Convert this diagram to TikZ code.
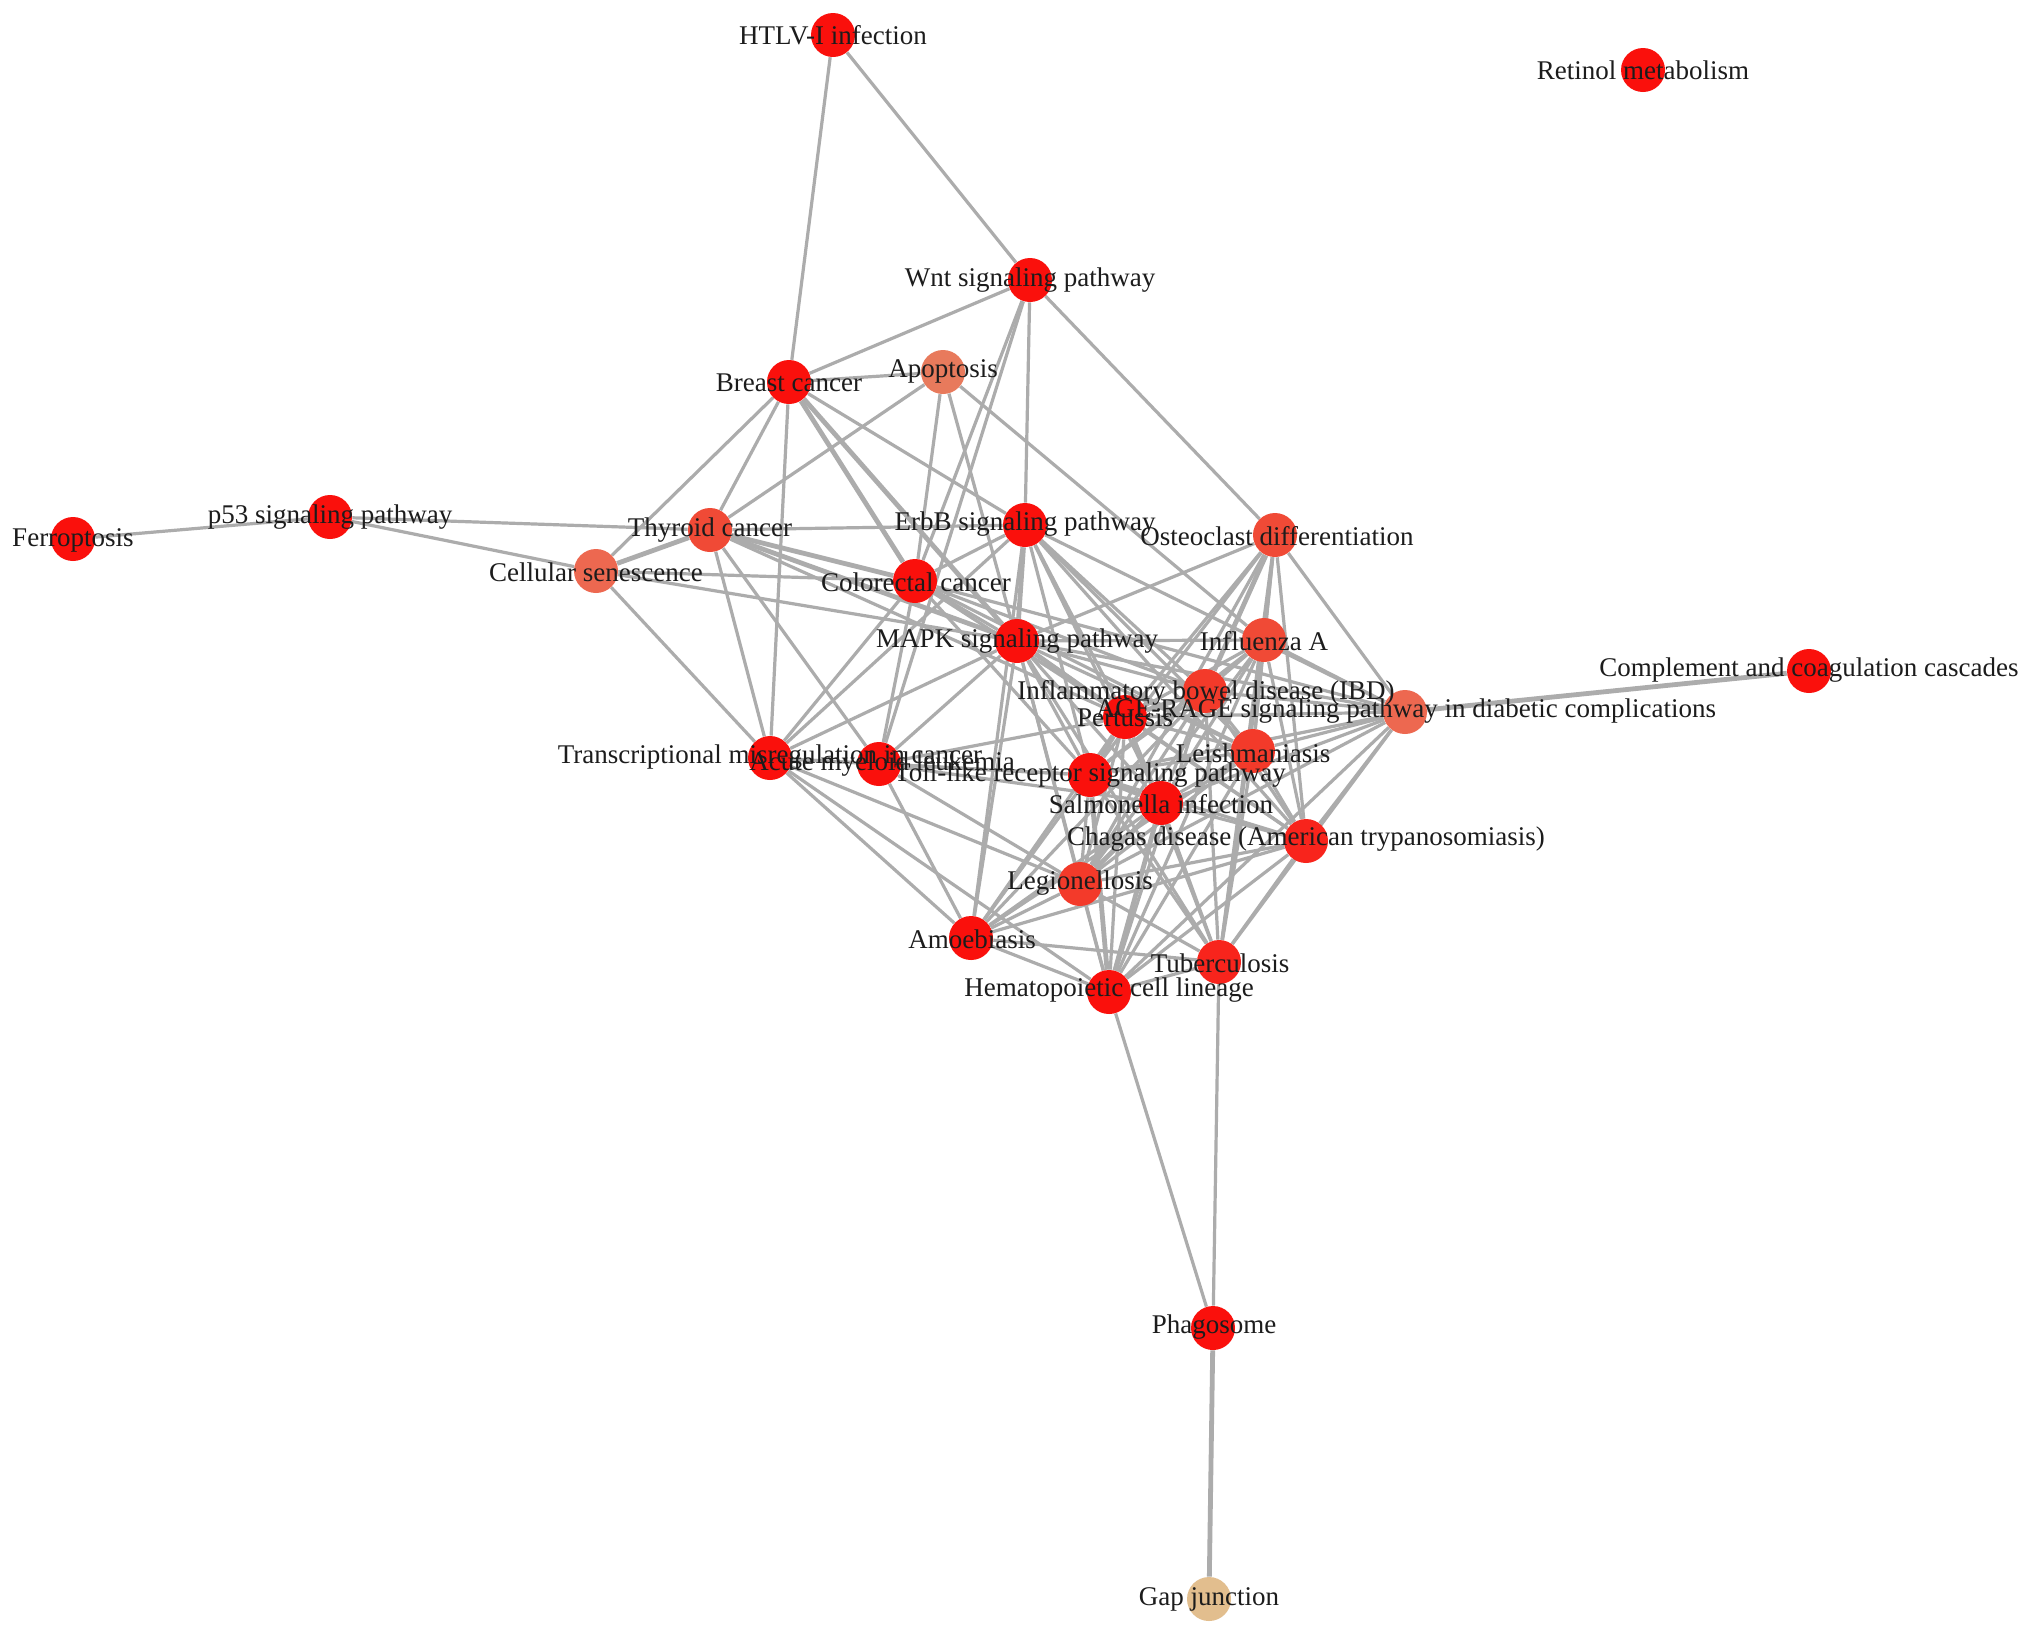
\documentclass[tikz,border=0pt]{standalone}
\usepackage{fontspec}
\setmainfont{Liberation Serif}
\usetikzlibrary{backgrounds}
\definecolor{nred}{RGB}{250,16,12}
\definecolor{nred2}{RGB}{248,36,28}
\definecolor{nred3}{RGB}{243,58,42}
\definecolor{norg}{RGB}{240,74,54}
\definecolor{nsal}{RGB}{237,104,80}
\definecolor{napo}{RGB}{232,122,92}
\definecolor{ngap}{RGB}{226,190,142}
\definecolor{edgec}{RGB}{172,172,172}
\definecolor{labc}{RGB}{28,28,28}
\begin{document}
\begin{tikzpicture}[x=0.5pt,y=-0.5pt,
  vtx/.style={circle,inner sep=0pt,minimum size=22pt,draw=none},
  lab/.style={font=\fontsize{13.5}{16}\selectfont,text=labc,inner sep=0pt},
  edge/.style={draw=edgec,line width=1.6pt},
  thk/.style={draw=edgec,line width=2.4pt}]
\path[use as bounding box] (0,0) rectangle (2032,1635);
% nodes
\node[vtx,fill=nred] (HTLV) at (833,35) {};
\node[vtx,fill=nred] (RET) at (1643,70) {};
\node[vtx,fill=nred] (WNT) at (1030,280) {};
\node[vtx,fill=nred] (BRC) at (789,382) {};
\node[vtx,fill=napo] (APO) at (943,372) {};
\node[vtx,fill=nred] (FER) at (73,539) {};
\node[vtx,fill=nred] (P53) at (330,517) {};
\node[vtx,fill=norg] (THY) at (710,530) {};
\node[vtx,fill=nsal] (CSEN) at (596,571) {};
\node[vtx,fill=nred] (ERBB) at (1025,525) {};
\node[vtx,fill=norg] (OST) at (1275,535) {};
\node[vtx,fill=nred] (CRC) at (915,581) {};
\node[vtx,fill=nred] (MAPK) at (1017,641) {};
\node[vtx,fill=norg] (FLU) at (1264,640) {};
\node[vtx,fill=nred3] (IBD) at (1205,691) {};
\node[vtx,fill=nred] (PER) at (1125,717) {};
\node[vtx,fill=nsal] (AGE) at (1405,712) {};
\node[vtx,fill=nred] (COMP) at (1809,671) {};
\node[vtx,fill=nred3] (LEI) at (1253,751) {};
\node[vtx,fill=nred] (TMC) at (770,758) {};
\node[vtx,fill=nred] (AML) at (879,764) {};
\node[vtx,fill=nred] (TLR) at (1090,775) {};
\node[vtx,fill=nred] (SAL) at (1161,803) {};
\node[vtx,fill=nred2] (CHA) at (1306,841) {};
\node[vtx,fill=nred3] (LEG) at (1080,884) {};
\node[vtx,fill=nred] (AMO) at (971,938) {};
\node[vtx,fill=nred2] (TUB) at (1219,962) {};
\node[vtx,fill=nred] (HCL) at (1109,992) {};
\node[vtx,fill=nred] (PHA) at (1213,1328) {};
\node[vtx,fill=ngap] (GAP) at (1209,1599) {};
% edges
\begin{scope}[on background layer]
\fill[white] (0,0) rectangle (2032,1635);
\draw[edge] (HTLV) -- (BRC);
\draw[edge] (HTLV) -- (WNT);
\draw[edge] (WNT) -- (BRC);
\draw[edge] (WNT) -- (OST);
\draw[edge] (WNT) -- (ERBB);
\draw[edge] (WNT) -- (CRC);
\draw[edge] (WNT) -- (AML);
\draw[edge] (BRC) -- (APO);
\draw[edge] (BRC) -- (THY);
\draw[edge] (BRC) -- (CSEN);
\draw[edge] (BRC) -- (TMC);
\draw[thk] (BRC) -- (CRC);
\draw[thk] (BRC) -- (MAPK);
\draw[edge] (BRC) -- (ERBB);
\draw[edge] (APO) -- (THY);
\draw[edge] (APO) -- (CRC);
\draw[edge] (APO) -- (MAPK);
\draw[edge] (APO) -- (FLU);
\draw[edge] (FER) -- (P53);
\draw[edge] (P53) -- (THY);
\draw[edge] (P53) -- (CSEN);
\draw[thk] (THY) -- (CSEN);
\draw[edge] (THY) -- (ERBB);
\draw[thk] (THY) -- (CRC);
\draw[thk] (THY) -- (MAPK);
\draw[edge] (THY) -- (TMC);
\draw[edge] (THY) -- (AML);
\draw[edge] (THY) -- (PER);
\draw[edge] (CSEN) -- (CRC);
\draw[edge] (CSEN) -- (TMC);
\draw[edge] (CSEN) -- (MAPK);
\draw[edge] (ERBB) -- (CRC);
\draw[thk] (ERBB) -- (MAPK);
\draw[edge] (ERBB) -- (TMC);
\draw[edge] (ERBB) -- (AMO);
\draw[edge] (ERBB) -- (PER);
\draw[edge] (ERBB) -- (IBD);
\draw[edge] (ERBB) -- (LEI);
\draw[edge] (ERBB) -- (SAL);
\draw[edge] (ERBB) -- (TLR);
\draw[edge] (ERBB) -- (CHA);
\draw[edge] (ERBB) -- (AGE);
\draw[edge] (CRC) -- (MAPK);
\draw[edge] (CRC) -- (TMC);
\draw[edge] (CRC) -- (AML);
\draw[edge] (CRC) -- (PER);
\draw[edge] (CRC) -- (IBD);
\draw[edge] (CRC) -- (TLR);
\draw[edge] (CRC) -- (LEI);
\draw[edge] (CRC) -- (AGE);
\draw[edge] (MAPK) -- (OST);
\draw[edge] (MAPK) -- (FLU);
\draw[edge] (MAPK) -- (IBD);
\draw[thk] (MAPK) -- (PER);
\draw[edge] (MAPK) -- (AGE);
\draw[edge] (MAPK) -- (LEI);
\draw[edge] (MAPK) -- (TLR);
\draw[edge] (MAPK) -- (SAL);
\draw[edge] (MAPK) -- (CHA);
\draw[edge] (MAPK) -- (LEG);
\draw[edge] (MAPK) -- (HCL);
\draw[edge] (MAPK) -- (TMC);
\draw[edge] (MAPK) -- (AML);
\draw[edge] (MAPK) -- (AMO);
\draw[edge] (MAPK) -- (TUB);
\draw[edge] (OST) -- (FLU);
\draw[thk] (OST) -- (IBD);
\draw[edge] (OST) -- (PER);
\draw[edge] (OST) -- (LEI);
\draw[edge] (OST) -- (AGE);
\draw[edge] (OST) -- (CHA);
\draw[edge] (OST) -- (TUB);
\draw[edge] (OST) -- (TLR);
\draw[edge] (OST) -- (LEG);
\draw[edge] (FLU) -- (IBD);
\draw[edge] (FLU) -- (PER);
\draw[edge] (FLU) -- (AGE);
\draw[edge] (FLU) -- (LEI);
\draw[edge] (FLU) -- (TLR);
\draw[edge] (FLU) -- (SAL);
\draw[edge] (FLU) -- (CHA);
\draw[edge] (FLU) -- (LEG);
\draw[edge] (FLU) -- (TUB);
\draw[edge] (FLU) -- (HCL);
\draw[thk] (IBD) -- (PER);
\draw[edge] (IBD) -- (AGE);
\draw[edge] (IBD) -- (LEI);
\draw[edge] (IBD) -- (TLR);
\draw[edge] (IBD) -- (SAL);
\draw[edge] (IBD) -- (CHA);
\draw[edge] (IBD) -- (LEG);
\draw[edge] (IBD) -- (TUB);
\draw[edge] (IBD) -- (HCL);
\draw[edge] (IBD) -- (AMO);
\draw[edge] (PER) -- (AGE);
\draw[edge] (PER) -- (LEI);
\draw[thk] (PER) -- (TLR);
\draw[edge] (PER) -- (SAL);
\draw[edge] (PER) -- (CHA);
\draw[edge] (PER) -- (LEG);
\draw[edge] (PER) -- (TUB);
\draw[edge] (PER) -- (HCL);
\draw[edge] (PER) -- (AMO);
\draw[edge] (PER) -- (AML);
\draw[thk] (AGE) -- (COMP);
\draw[edge] (AGE) -- (LEI);
\draw[edge] (AGE) -- (TLR);
\draw[edge] (AGE) -- (SAL);
\draw[edge] (AGE) -- (CHA);
\draw[edge] (AGE) -- (LEG);
\draw[edge] (AGE) -- (TUB);
\draw[edge] (AGE) -- (HCL);
\draw[edge] (LEI) -- (TLR);
\draw[edge] (LEI) -- (SAL);
\draw[edge] (LEI) -- (CHA);
\draw[edge] (LEI) -- (LEG);
\draw[edge] (LEI) -- (TUB);
\draw[edge] (LEI) -- (HCL);
\draw[edge] (LEI) -- (AMO);
\draw[edge] (TMC) -- (AML);
\draw[edge] (TMC) -- (TLR);
\draw[edge] (TMC) -- (LEG);
\draw[edge] (TMC) -- (AMO);
\draw[edge] (TMC) -- (HCL);
\draw[edge] (AML) -- (TLR);
\draw[edge] (AML) -- (AMO);
\draw[edge] (AML) -- (LEG);
\draw[edge] (AML) -- (SAL);
\draw[thk] (TLR) -- (SAL);
\draw[edge] (TLR) -- (CHA);
\draw[edge] (TLR) -- (LEG);
\draw[edge] (TLR) -- (TUB);
\draw[thk] (TLR) -- (HCL);
\draw[edge] (TLR) -- (AMO);
\draw[edge] (SAL) -- (CHA);
\draw[thk] (SAL) -- (LEG);
\draw[edge] (SAL) -- (TUB);
\draw[thk] (SAL) -- (HCL);
\draw[edge] (SAL) -- (AMO);
\draw[edge] (CHA) -- (LEG);
\draw[edge] (CHA) -- (TUB);
\draw[edge] (CHA) -- (HCL);
\draw[edge] (CHA) -- (AMO);
\draw[edge] (LEG) -- (AMO);
\draw[edge] (LEG) -- (TUB);
\draw[edge] (LEG) -- (HCL);
\draw[edge] (AMO) -- (TUB);
\draw[edge] (AMO) -- (HCL);
\draw[edge] (TUB) -- (HCL);
\draw[edge] (TUB) -- (PHA);
\draw[edge] (HCL) -- (PHA);
\draw[thk] (PHA) -- (GAP);
\end{scope}
% labels
\node[lab] (HTLV-l) at (833,35) {HTLV-I infection};
\node[lab] (RET-l) at (1643,70) {Retinol metabolism};
\node[lab] (WNT-l) at (1030,280) {Wnt signaling pathway};
\node[lab] (BRC-l) at (789,383) {Breast cancer};
\node[lab] (APO-l) at (943,371) {Apoptosis};
\node[lab] (FER-l) at (73,540) {Ferroptosis};
\node[lab] (P53-l) at (330,517) {p53 signaling pathway};
\node[lab] (THY-l) at (710,530) {Thyroid cancer};
\node[lab] (CSEN-l) at (596,572) {Cellular senescence};
\node[lab] (ERBB-l) at (1025,524) {ErbB signaling pathway};
\node[lab] (OST-l) at (1277,536) {Osteoclast differentiation};
\node[lab] (CRC-l) at (916,582) {Colorectal cancer};
\node[lab] (MAPK-l) at (1017,641) {MAPK signaling pathway};
\node[lab] (FLU-l) at (1264,641) {Influenza A};
\node[lab] (IBD-l) at (1206,693) {Inflammatory bowel disease (IBD)};
\node[lab] (PER-l) at (1125,718) {Pertussis};
\node[lab] (AGE-l) at (1406,711) {AGE-RAGE signaling pathway in diabetic complications};
\node[lab] (COMP-l) at (1809,670) {Complement and coagulation cascades};
\node[lab] (LEI-l) at (1253,753) {Leishmaniasis};
\node[lab] (TMC-l) at (770,757) {Transcriptional misregulation in cancer};
\node[lab] (AML-l) at (882,764) {Acute myeloid leukemia};
\node[lab] (TLR-l) at (1090,775) {Toll-like receptor signaling pathway};
\node[lab] (SAL-l) at (1161,804) {Salmonella infection};
\node[lab] (CHA-l) at (1306,839) {Chagas disease (American trypanosomiasis)};
\node[lab] (LEG-l) at (1080,883) {Legionellosis};
\node[lab] (AMO-l) at (972,939) {Amoebiasis};
\node[lab] (TUB-l) at (1220,963) {Tuberculosis};
\node[lab] (HCL-l) at (1109,990) {Hematopoietic cell lineage};
\node[lab] (PHA-l) at (1214,1327) {Phagosome};
\node[lab] (GAP-l) at (1209,1599) {Gap junction};
\end{tikzpicture}
\end{document}
